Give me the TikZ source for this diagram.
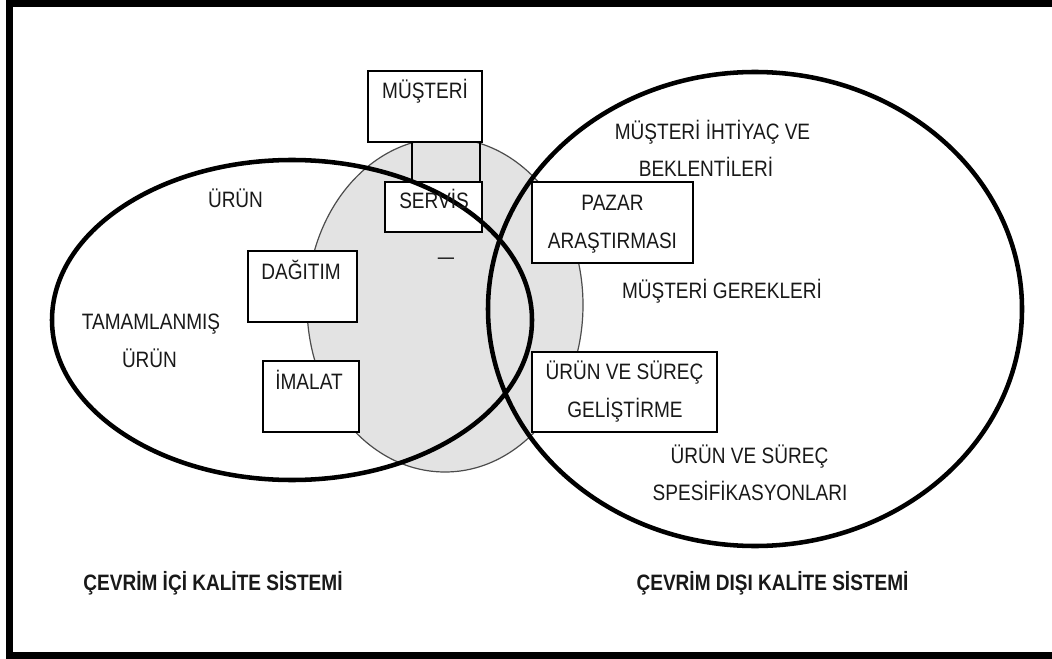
\documentclass[tikz,border=0pt]{standalone}
\usepackage{fontspec}
\setmainfont{Liberation Sans}[FakeStretch=0.855]
\tikzset{
  txt/.style={anchor=base, inner sep=0pt, font=\fontsize{16.7}{20}\selectfont, text=black!90},
  btxt/.style={txt, font=\fontsize{16.7}{20}\selectfont\bfseries},
  boxnode/.style={draw=black, line width=1.4pt, fill=white, inner sep=0pt, rectangle},
  bigring/.style={draw=black, line width=3.4pt},
  grayring/.style={draw=black!70, line width=0.9pt, fill=black!11},
  frameline/.style={draw=black, line width=5.25pt},
  link/.style={draw=black, line width=1pt}
}
\begin{document}
\begin{tikzpicture}[x=0.75pt,y=-0.75pt]
\useasboundingbox (0,0) rectangle (1052,659);
\fill[white] (0,0) rectangle (1052,659);
% frame
\draw[frameline] (1070,3.5) -- (9,3.5) -- (9,655) -- (1070,655);
% shaded ellipse
\path[grayring] (445,305) ellipse [x radius=103.5pt, y radius=125.25pt];
% boxes
\node[boxnode, minimum width=85.5pt, minimum height=53.25pt] (must) at (425,106.5) {};
\node[boxnode, minimum width=72.75pt, minimum height=37.5pt] (serv) at (433.5,207) {};
\node[boxnode, minimum width=81.75pt, minimum height=53.25pt] (dag) at (302.5,286.5) {};
\node[boxnode, minimum width=72pt, minimum height=53.25pt] (imal) at (311,396.5) {};
\node[boxnode, minimum width=120.75pt, minimum height=60.75pt] (pazar) at (612.5,222.5) {};
\node[boxnode, minimum width=138.75pt, minimum height=60pt] (urgel) at (624.5,392) {};
% links between MUSTERI and SERVIS
\coordinate (la) at (412,0);
\coordinate (lb) at (480,0);
\draw[link] (must.south -| la) -- (serv.north -| la);
\draw[link] (must.south -| lb) -- (serv.north -| lb);
% big rings
\draw[bigring] (292,320) ellipse [x radius=180pt, y radius=120pt];
\draw[bigring] (755,309) ellipse [x radius=200.25pt, y radius=177.75pt];
% box texts
\node[txt] (tmust) at (425,99) {MÜŞTERİ};
\node[txt] (tserv) at (434,209) {SERVİS};
\node[txt] (tdag) at (301,279) {DAĞITIM};
\node[txt] (timal) at (309,389) {İMALAT};
\node[txt] (tpaz1) at (612.5,211) {PAZAR};
\node[txt] (tpaz2) at (612.5,248) {ARAŞTIRMASI};
\node[txt] (tgel1) at (624.5,379) {ÜRÜN VE SÜREÇ};
\node[txt] (tgel2) at (625,417) {GELİŞTİRME};
\node[inner sep=0pt, font=\fontsize{14.25}{17}\selectfont] (dash) at (446,261) {—};
% free texts
\node[txt] (turun) at (235.5,208) {ÜRÜN};
\node[txt] (ttam1) at (151,329) {TAMAMLANMIŞ};
\node[txt] (ttam2) at (149.5,367) {ÜRÜN};
\node[txt] (tihti1) at (712.5,140) {MÜŞTERİ İHTİYAÇ VE};
\node[txt] (tihti2) at (706,177) {BEKLENTİLERİ};
\node[txt] (tger) at (722,298) {MÜŞTERİ GEREKLERİ};
\node[txt] (tspe1) at (749.5,463) {ÜRÜN VE SÜREÇ};
\node[txt] (tspe2) at (750,500) {SPESİFİKASYONLARI};
\node[btxt] (tic) at (213,590) {ÇEVRİM İÇİ KALİTE SİSTEMİ};
\node[btxt] (tdis) at (772.5,590) {ÇEVRİM DIŞI KALİTE SİSTEMİ};
\end{tikzpicture}
\end{document}
